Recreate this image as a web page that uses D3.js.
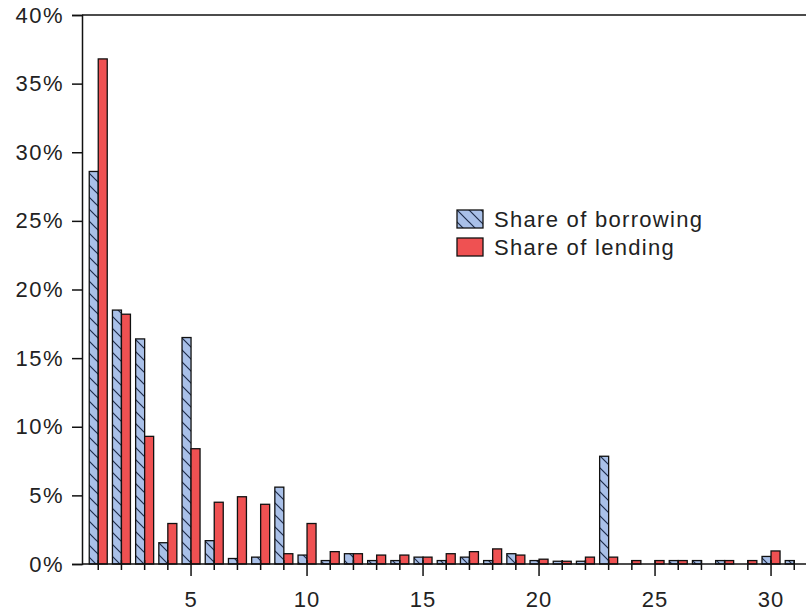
<!DOCTYPE html>
<html>
<head>
<meta charset="utf-8">
<script src="https://cdn.jsdelivr.net/npm/d3@7"></script>
<style>
  html, body { margin: 0; padding: 0; background: #fff; }
  svg { display: block; }
  text { font-family: "Liberation Sans", Arial, sans-serif; fill: #222; }
</style>
</head>
<body>
<svg id="chart" width="806" height="614"></svg>
<script>
// ---- data ----
const categories = d3.range(1, 32);
const borrowing = [28.6, 18.5, 16.4, 1.55, 16.5, 1.7, 0.4, 0.5, 5.6, 0.65,
                   0.25, 0.75, 0.25, 0.25, 0.5, 0.25, 0.5, 0.25, 0.75, 0.25,
                   0.2, 0.2, 7.85, 0, 0, 0.25, 0.25, 0.25, 0, 0.55, 0.25];
const lending   = [36.8, 18.2, 9.3, 2.95, 8.4, 4.5, 4.9, 4.35, 0.75, 2.95,
                   0.9, 0.75, 0.65, 0.65, 0.5, 0.75, 0.9, 1.1, 0.65, 0.35,
                   0.2, 0.5, 0.5, 0.25, 0.25, 0.25, 0, 0.25, 0.25, 0.95, 0];
const yTicks = [0, 5, 10, 15, 20, 25, 30, 35, 40];
const xTickLabels = [5, 10, 15, 20, 25, 30];
const seriesNames = ["Share of borrowing", "Share of lending"];

// ---- layout ----
const svg = d3.select("#chart");
const mLeft = 82, mTop = 15, mBottom = 564, mRight = 806;
const step = 23.2;
const x = d3.scaleLinear().domain([0.3, 31.7]).range([mLeft, mLeft + 31.4 * step]);
const y = d3.scaleLinear().domain([0, 40]).range([mBottom, mTop]);
const barW = 9;

const defs = svg.append("defs");
const pat = defs.append("pattern")
  .attr("id", "hatch").attr("patternUnits", "userSpaceOnUse")
  .attr("width", 12).attr("height", 12);
pat.append("rect").attr("width", 12).attr("height", 12).attr("fill", "#a9c0e8");
pat.append("path").attr("d", "M-3,-3 L15,15 M-3,9 L3,15 M9,-3 L15,3")
  .attr("stroke", "#1d2b4a").attr("stroke-width", 1.2);

const redFill = "#ef5152";
const strokeCol = "#111";

// bars
const g = svg.append("g");
g.selectAll("rect.b").data(categories).enter().append("rect")
  .attr("class", "b")
  .attr("x", c => x(c) - barW)
  .attr("y", (c, i) => y(borrowing[i]))
  .attr("width", barW)
  .attr("height", (c, i) => mBottom - y(borrowing[i]))
  .attr("fill", "url(#hatch)")
  .attr("stroke", strokeCol).attr("stroke-width", 1.3)
  .style("display", (c, i) => borrowing[i] > 0 ? null : "none");
g.selectAll("rect.l").data(categories).enter().append("rect")
  .attr("class", "l")
  .attr("x", c => x(c))
  .attr("y", (c, i) => y(lending[i]))
  .attr("width", barW)
  .attr("height", (c, i) => mBottom - y(lending[i]))
  .attr("fill", redFill)
  .attr("stroke", strokeCol).attr("stroke-width", 1.3)
  .style("display", (c, i) => lending[i] > 0 ? null : "none");

// frame (top line)
svg.append("line").attr("x1", mLeft).attr("x2", mRight).attr("y1", mTop).attr("y2", mTop)
  .attr("stroke", "#111").attr("stroke-width", 1.5);

// y axis
const yAxis = d3.axisLeft(y).tickValues(yTicks).tickSize(10).tickPadding(8)
  .tickFormat(d => d + "%");
const ya = svg.append("g").attr("transform", `translate(${mLeft},0)`).call(yAxis);
ya.select(".domain").attr("stroke", "#111").attr("stroke-width", 1.5);
ya.selectAll(".tick line").attr("stroke", "#111").attr("stroke-width", 1.5);
ya.selectAll("text").style("font-size", "22px").style("letter-spacing", "1.5px")
  .attr("fill", "#222").attr("font-family", null);

// x axis: minor ticks at every category, labels on multiples of 5
const xa = svg.append("g").attr("transform", `translate(0,${mBottom})`);
xa.append("line").attr("x1", mLeft).attr("x2", mRight).attr("y1", 0).attr("y2", 0)
  .attr("stroke", "#111").attr("stroke-width", 1.5);
xa.selectAll("line.t").data(categories).enter().append("line")
  .attr("class", "t")
  .attr("x1", c => x(c)).attr("x2", c => x(c))
  .attr("y1", -4)
  .attr("y2", c => xTickLabels.includes(c) ? 12 : 6)
  .attr("stroke", "#111").attr("stroke-width", 1.5);
xa.selectAll("text").data(xTickLabels).enter().append("text")
  .attr("x", c => x(c)).attr("y", 43)
  .attr("text-anchor", "middle")
  .style("font-size", "22px").style("letter-spacing", "1px")
  .text(d => d);

// legend
const lg = svg.append("g").attr("transform", "translate(457,210)");
const fills = ["url(#hatch)", redFill];
seriesNames.forEach((name, i) => {
  lg.append("rect").attr("x", 0).attr("y", i * 28).attr("width", 26).attr("height", 18)
    .attr("fill", fills[i]).attr("stroke", strokeCol).attr("stroke-width", 1.3);
  lg.append("text").attr("x", 37).attr("y", i * 28 + 17)
    .style("font-size", "22px").style("letter-spacing", "1.3px")
    .text(name);
});
</script>
</body>
</html>
